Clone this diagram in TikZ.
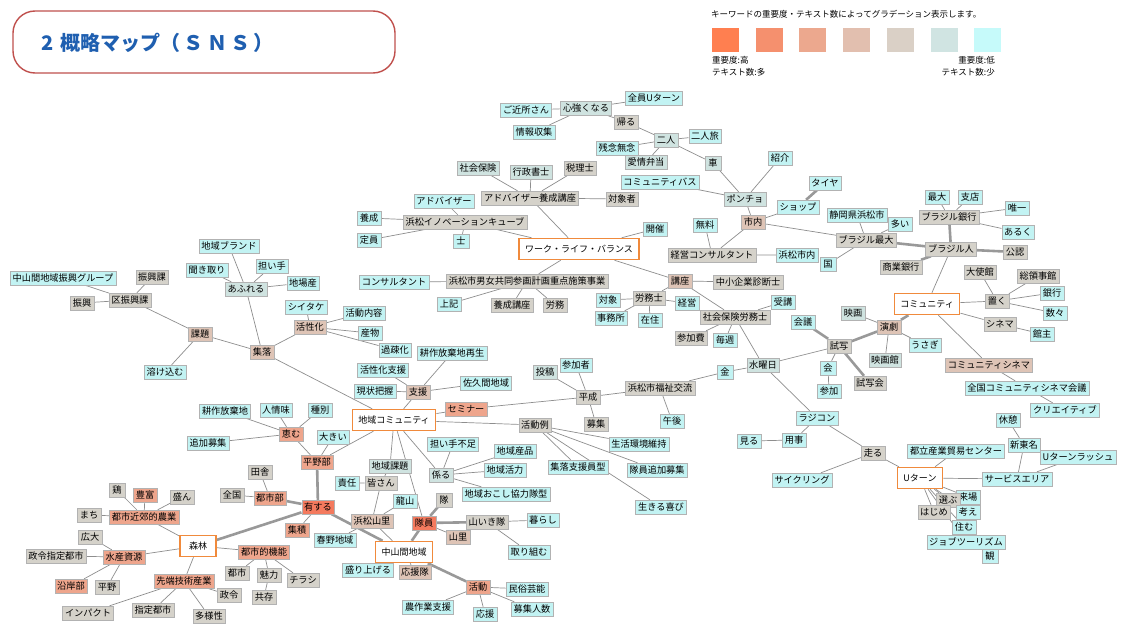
\documentclass[tikz,border=0pt]{standalone}
\usepackage{fontspec}
\setmainfont{Noto Sans CJK JP}
\usetikzlibrary{backgrounds,shadows}
\definecolor{kwhi}{HTML}{F47A5E}
\definecolor{kwsal}{HTML}{EEA58C}
\definecolor{kwtan}{HTML}{DEC4B6}
\definecolor{kwgry}{HTML}{D5D2CA}
\definecolor{kwgc}{HTML}{CFE3E0}
\definecolor{kwcy}{HTML}{C2F3F3}
\definecolor{hubor}{HTML}{F08A3C}
\definecolor{ttlred}{HTML}{C0504D}
\definecolor{ttlblue}{HTML}{1F5FB0}
\definecolor{lngray}{HTML}{8E8E8E}
\definecolor{lg1}{HTML}{FF7F50}
\definecolor{lg2}{HTML}{F5906E}
\definecolor{lg3}{HTML}{ECA88E}
\definecolor{lg4}{HTML}{E2BFAF}
\definecolor{lg5}{HTML}{DAD0C6}
\definecolor{lg6}{HTML}{D0E4E2}
\definecolor{lg7}{HTML}{C6FAFA}
\tikzset{
  kw/.style={rectangle, draw=black!30, line width=0.4pt, inner xsep=2.5pt, inner ysep=2pt,
    text height=8pt, text depth=2pt, minimum width=16pt, font=\fontsize{9.2}{10}\selectfont,
    drop shadow={shadow xshift=0.7pt, shadow yshift=-0.7pt, fill=black!30}},
  kh/.style={kw, fill=kwhi},
  ks/.style={kw, fill=kwsal},
  kt/.style={kw, fill=kwtan},
  kg/.style={kw, fill=kwgry},
  kgc/.style={kw, fill=kwgc},
  kc/.style={kw, fill=kwcy},
  hub/.style={rectangle, draw=hubor, fill=white, line width=1.5pt, inner xsep=6pt,
    minimum height=21pt, minimum width=36pt, font=\fontsize{9}{10}\selectfont},
  ln/.style={draw=lngray, line width=0.7pt},
  tk/.style={draw=lngray!90, line width=2.6pt},
  swatch/.style={rectangle, minimum width=27pt, minimum height=24pt, inner sep=0pt},
  lgfont/.style={font=\fontsize{8.5}{9}\selectfont, inner sep=0pt}
}
\begin{document}
\begin{tikzpicture}[x=1pt, y=-1pt]
            \useasboundingbox (0,0) rectangle (1121,626);

            \draw[ttlred, line width=1.4pt, rounded corners=22pt] (13,11) rectangle (395,73);
            \node[anchor=west, text=ttlblue, font=\fontsize{20}{24}\selectfont\bfseries] (ttl) at (38,43) {2\,\,概略マップ（\,Ｓ\,Ｎ\,Ｓ\,）};

            \node[lgfont, anchor=west] (lgtxt) at (711,14) {キーワードの重要度・テキスト数によってグラデーション表示します。};
            \node[swatch, fill=lg1] (sw1) at (725.5,40) {};
            \node[swatch, fill=lg2] (sw2) at (769,40) {};
            \node[swatch, fill=lg3] (sw3) at (812.5,40) {};
            \node[swatch, fill=lg4] (sw4) at (856.5,40) {};
            \node[swatch, fill=lg5] (sw5) at (900.5,40) {};
            \node[swatch, fill=lg6] (sw6) at (944.5,40) {};
            \node[swatch, fill=lg7] (sw7) at (987.5,40) {};
            \node[lgfont, anchor=west] (hiA) at (712,60) {重要度:高};
            \node[lgfont, anchor=west] (hiB) at (712,72) {テキスト数:多};
            \node[lgfont, anchor=east] (loA) at (995,60) {重要度:低};
            \node[lgfont, anchor=east] (loB) at (995,72) {テキスト数:少};

            \node[hub] (wlb) at (579,249) {ワーク・ライフ・バランス};
            \node[hub] (com) at (927,304) {コミュニティ};
            \node[hub] (chi) at (394,420) {地域コミュニティ};
            \node[hub] (shin) at (198,546) {森林};
            \node[hub] (chu) at (404,552) {中山間地域};
            \node[hub] (utn) at (920,478) {Uターン};

            \node[kc] (brand) at (229,246) {地域ブランド};
            \node[kc] (ninai) at (272,266) {担い手};
            \node[kc] (kiki) at (207,270) {聞き取り};
            \node[kgc] (afure) at (246,289) {あふれる};
            \node[kc] (jiba) at (303,283) {地場産};
            \node[kc] (grp) at (63,278) {中山間地域振興グループ};
            \node[kg] (shkA) at (152,277) {振興課};
            \node[kg] (shk) at (82,303) {振興};
            \node[kg] (kushk) at (130,300) {区振興課};
            \node[kt] (kadai) at (200,334) {課題};
            \node[kc] (toke) at (165,372) {溶け込む};
            \node[kt] (shur) at (262,352) {集落};
            \node[kc] (shii) at (306,307) {シイタケ};
            \node[kt] (kass) at (310,327) {活性化};
            \node[kc] (naiyo) at (364,313) {活動内容};
            \node[kc] (sanb) at (370,333) {産物};
            \node[kc] (kaso) at (395,350) {過疎化};

            \node[kgc] (shaho) at (478,168) {社会保険};
            \node[kgc] (gyos) at (531,172) {行政書士};
            \node[kg] (zeir) at (580,168) {税理士};
            \node[kg] (advk) at (530,198) {アドバイザー養成講座};
            \node[kg] (taisy) at (622,199) {対象者};
            \node[kc] (adv) at (444,201) {アドバイザー};
            \node[kc] (yos) at (369,218) {養成};
            \node[kg] (cube) at (465,222) {浜松イノベーションキューブ};
            \node[kc] (tei) at (369,240) {定員};
            \node[kc] (shi) at (461,241) {士};
            \node[kc] (kaisai) at (655,229) {開催};
            \node[kc] (cons) at (394,282) {コンサルタント};
            \node[kg] (danjo) at (527,281) {浜松市男女共同参画計画重点施策事業};
            \node[kc] (joki) at (449,304) {上記};
            \node[kg] (yosk) at (512,305) {養成講座};
            \node[kg] (romu) at (555,305) {労務};

            \node[kc] (gokin) at (526,110) {ご近所さん};
            \node[kgc] (kokoro) at (586,108) {心強くなる};
            \node[kc] (zenin) at (654,98) {全員Uターン};
            \node[kc] (joho) at (534,132) {情報収集};
            \node[kg] (kaeru) at (626,122) {帰る};
            \node[kgc] (futari) at (666,140) {二人};
            \node[kc] (futabi) at (705,136) {二人旅};
            \node[kc] (zannen) at (617,148) {残念無念};
            \node[kgc] (aijo) at (646,162) {愛情弁当};
            \node[kgc] (kuruma) at (713,163) {車};
            \node[kc] (cbus) at (660,182) {コミュニティバス};
            \node[kgc] (poncho) at (745,199) {ポンチョ};
            \node[kt] (shinai) at (753,222) {市内};
            \node[kc] (muryo) at (705,225) {無料};
            \node[kc] (shokai) at (780,158) {紹介};
            \node[kc] (taiya) at (825,183) {タイヤ};
            \node[kc] (shop) at (798,207) {ショップ};

            \node[kc] (shizu) at (857,215) {静岡県浜松市};
            \node[kc] (oi) at (900,224) {多い};
            \node[kg] (brmax) at (866,240) {ブラジル最大};
            \node[kg] (brbank) at (949,217) {ブラジル銀行};
            \node[kc] (saidai) at (937,197) {最大};
            \node[kc] (shiten) at (970,197) {支店};
            \node[kc] (yuiitsu) at (1017,208) {唯一};
            \node[kc] (aruku) at (1018,232) {あるく};
            \node[kg] (brjin) at (951,249) {ブラジル人};
            \node[kg] (konin) at (1015,252) {公認};
            \node[kg] (shogyo) at (901,267) {商業銀行};
            \node[kc] (hmnai) at (797,255) {浜松市内};
            \node[kc] (kuni) at (828,264) {国};
            \node[kg] (keiei) at (712,255) {経営コンサルタント};
            \node[kg] (taishi) at (980,272) {大使館};
            \node[kg] (soryo) at (1038,276) {総領事館};
            \node[kg] (oku) at (997,301) {置く};
            \node[kc] (ginko) at (1052,293) {銀行};
            \node[kc] (kazu) at (1055,313) {数々};
            \node[kg] (cinema) at (1000,324) {シネマ};
            \node[kc] (kanshu) at (1042,334) {館主};
            \node[kgc] (eiga) at (853,313) {映画};
            \node[kt] (engeki) at (889,327) {演劇};
            \node[kc] (usagi) at (925,345) {うさぎ};
            \node[kgc] (eigak) at (885,360) {映画館};
            \node[kg] (shisha) at (839,346) {試写};
            \node[kg] (shishak) at (870,383) {試写会};
            \node[kt] (comcin) at (989,365) {コミュニティシネマ};
            \node[kc] (zenkoku) at (1027,388) {全国コミュニティシネマ会議};
            \node[kc] (creat) at (1065,410) {クリエイティブ};

            \node[kc] (kyukei) at (1008,420) {休憩};
            \node[kc] (shintom) at (1024,445) {新東名};
            \node[kc] (urush) at (1078,457) {Uターンラッシュ};
            \node[kc] (toritsu) at (956,451) {都立産業貿易センター};
            \node[kg] (hashiru) at (873,453) {走る};
            \node[kc] (sarea) at (1017,479) {サービスエリア};
            \node[kc] (raijo) at (968,497) {来場};
            \node[kg] (erabu) at (948,500) {選ぶ};
            \node[kc] (kangae) at (968,512) {考え};
            \node[kg] (hajime) at (934,512) {はじめ};
            \node[kc] (sumu) at (964,527) {住む};
            \node[kc] (jobt) at (966,542) {ジョブツーリズム};
            \node[kc] (kan) at (990,556) {観};
            \node[kc] (cycl) at (802,480) {サイクリング};
            \node[kc] (miru) at (749,441) {見る};
            \node[kc] (yoji) at (794,440) {用事};
            \node[kc] (rajikon) at (817,418) {ラジコン};
            \node[kc] (sanka) at (829,391) {参加};
            \node[kc] (kai) at (828,368) {会};
            \node[kc] (kaigi) at (803,322) {会議};

            \node[kc] (juko) at (783,302) {受講};
            \node[kg] (sharo) at (735,317) {社会保険労務士};
            \node[kg] (sankahi) at (691,338) {参加費};
            \node[kc] (maishu) at (725,340) {毎週};
            \node[kgc] (suiyo) at (763,365) {水曜日};
            \node[kc] (kin) at (725,372) {金};
            \node[kt] (koza) at (680,281) {講座};
            \node[kg] (chusho) at (748,282) {中小企業診断士};
            \node[kg] (romushi) at (649,298) {労務士};
            \node[kc] (taisho) at (608,300) {対象};
            \node[kc] (jimu) at (611,318) {事務所};
            \node[kc] (zaiju) at (650,320) {在住};
            \node[kc] (keie2) at (687,303) {経営};
            \node[kg] (fukushi) at (660,388) {浜松市福祉交流};
            \node[kg] (heisei) at (588,397) {平成};
            \node[kc] (gogo) at (672,421) {午後};
            \node[kg] (boshu) at (596,424) {募集};
            \node[kc] (sankasha) at (576,365) {参加者};
            \node[kgc] (toko) at (545,372) {投稿};

            \node[kg] (katsurei) at (535,425) {活動例};
            \node[kc] (seikatsu) at (639,444) {生活環境維持};
            \node[kc] (tsuika) at (657,470) {隊員追加募集};
            \node[kc] (shuraku2) at (578,467) {集落支援員型};
            \node[kc] (ikiru) at (661,507) {生きる喜び};
            \node[ks] (seminar) at (466,409) {セミナー};
            \node[kt] (shien) at (418,392) {支援};
            \node[kc] (genjo) at (375,391) {現状把握};
            \node[kc] (kshien) at (383,370) {活性化支援};
            \node[kc] (kosaku) at (452,353) {耕作放棄地再生};
            \node[kc] (sakuma) at (486,383) {佐久間地域};
            \node[kc] (ninaif) at (453,444) {担い手不足};
            \node[kc] (sanpin) at (515,451) {地域産品};
            \node[kc] (katsur) at (505,470) {地域活力};
            \node[kgc] (kakaru) at (441,475) {係る};
            \node[kc] (okoshi) at (506,494) {地域おこし協力隊型};
            \node[kgc] (chikad) at (390,466) {地域課題};
            \node[kg] (minasan) at (381,483) {皆さん};
            \node[kc] (sekinin) at (347,483) {責任};
            \node[kc] (ookii) at (333,437) {大きい};
            \node[ks] (heiya) at (317,462) {平野部};
            \node[kc] (shubetsu) at (320,410) {種別};
            \node[ks] (megumu) at (291,434) {恵む};
            \node[kc] (ninjo) at (276,410) {人情味};
            \node[kc] (kosakuh) at (225,411) {耕作放棄地};
            \node[kc] (tsuibo) at (208,443) {追加募集};
            \node[kg] (inaka) at (260,472) {田舎};
            \node[kg] (zenkok2) at (232,495) {全国};
            \node[ks] (toshibu) at (270,498) {都市部};
            \node[kh] (yusuru) at (318,507) {有する};
            \node[ks] (shuseki) at (297,530) {集積};
            \node[kc] (haruno) at (335,540) {春野地域};
            \node[kt] (hmyama) at (372,521) {浜松山里};
            \node[kc] (tatsu) at (405,501) {龍山};
            \node[kg] (tai) at (444,500) {隊};
            \node[kh] (taiin) at (424,523) {隊員};
            \node[kg] (yamaiki) at (487,522) {山いき隊};
            \node[kc] (kurashi) at (543,520) {暮らし};
            \node[kt] (yamazato) at (458,537) {山里};
            \node[kc] (torikumu) at (529,552) {取り組む};
            \node[kc] (moriage) at (368,570) {盛り上げる};
            \node[kt] (oentai) at (415,572) {応援隊};
            \node[ks] (katsudo) at (478,587) {活動};
            \node[kc] (minzoku) at (527,589) {民俗芸能};
            \node[kc] (nosagyo) at (428,607) {農作業支援};
            \node[kc] (oen) at (485,614) {応援};
            \node[kc] (boshunin) at (532,609) {募集人数};

            \node[ks] (toshikino) at (264,552) {都市的機能};
            \node[kg] (miryoku) at (269,575) {魅力};
            \node[kg] (chirashi) at (303,580) {チラシ};
            \node[kg] (kyozon) at (264,597) {共存};
            \node[kg] (toshi) at (237,573) {都市};
            \node[kg] (seirei) at (229,595) {政令};
            \node[ks] (kinko) at (144,517) {都市近郊的農業};
            \node[kg] (tori) at (117,490) {鶏};
            \node[ks] (hofu) at (145,495) {豊富};
            \node[kg] (sakan) at (182,497) {盛ん};
            \node[kg] (machi) at (89,515) {まち};
            \node[kg] (kodai) at (90,537) {広大};
            \node[ks] (suisan) at (124,557) {水産資源};
            \node[kg] (seishi) at (56,556) {政令指定都市};
            \node[ks] (engan) at (71,586) {沿岸部};
            \node[kg] (heiya2) at (107,587) {平野};
            \node[ks] (sentan) at (184,581) {先端技術産業};
            \node[kg] (impact) at (88,613) {インパクト};
            \node[kg] (shitei) at (153,610) {指定都市};
            \node[kg] (tayo) at (209,616) {多様性};

            \begin{scope}[on background layer]
            \fill[white] (0,0) rectangle (1121,626);
            \draw[ln] (brand) -- (afure) (afure) -- (shur) (afure) -- (ninai) (afure) -- (kiki) (afure) -- (jiba);
            \draw[ln] (grp) -- (kushk) (shkA) -- (kushk) (shk) -- (kushk) (kushk) -- (kadai);
            \draw[ln] (kadai) -- (toke) (kadai) -- (shur) (shur) -- (kass) (shur) -- (chi);
            \draw[ln] (kass) -- (shii) (kass) -- (naiyo) (kass) -- (sanb) (kass) -- (kaso);

            \draw[ln] (wlb) -- (advk) (wlb) -- (cube) (wlb) -- (danjo) (wlb) -- (koza) (wlb) -- (kaisai);
            \draw[ln] (advk) -- (shaho) (advk) -- (gyos) (advk) -- (zeir) (advk) -- (taisy);
            \draw[ln] (cube) -- (adv) (cube) -- (yos) (cube) -- (tei) (cube) -- (shi);
            \draw[ln] (danjo) -- (cons) (danjo) -- (joki) (danjo) -- (yosk) (danjo) -- (romu);
            \draw[ln] (koza) -- (chusho) (koza) -- (romushi) (koza) -- (sharo);
            \draw[ln] (romushi) -- (taisho) (romushi) -- (jimu) (romushi) -- (zaiju) (romushi) -- (keie2);
            \draw[ln] (sharo) -- (juko) (sharo) -- (sankahi) (sharo) -- (maishu) (sharo) -- (suiyo);
            \draw[ln] (keiei) -- (muryo) (keiei) -- (shinai) (keiei) -- (hmnai);
            \draw[ln] (shinai) -- (poncho) (shinai) -- (shop) (shinai) -- (brmax);
            \draw[ln] (poncho) -- (shokai) (poncho) -- (kuruma) (poncho) -- (cbus) (kuruma) -- (futari);
            \draw[ln] (futari) -- (kaeru) (futari) -- (futabi) (futari) -- (zannen) (futari) -- (aijo);
            \draw[ln] (kaeru) -- (kokoro) (kokoro) -- (gokin) (kokoro) -- (zenin) (kokoro) -- (joho);

            \draw[ln] (brmax) -- (shizu) (brmax) -- (oi) (brmax) -- (kuni);
            \draw[ln] (brbank) -- (saidai) (brbank) -- (shiten) (brbank) -- (yuiitsu) (brbank) -- (aruku);
            \draw[ln] (brjin) -- (com) (com) -- (oku) (com) -- (cinema) (com) -- (comcin);
            \draw[ln] (oku) -- (taishi) (oku) -- (soryo) (oku) -- (ginko) (oku) -- (kazu) (cinema) -- (kanshu);
            \draw[ln] (engeki) -- (eiga) (engeki) -- (usagi) (engeki) -- (eigak);
            \draw[ln] (shisha) -- (kai) (shisha) -- (suiyo) (kai) -- (sanka);
            \draw[ln] (comcin) -- (zenkoku) (zenkoku) -- (creat);
            \draw[ln] (suiyo) -- (kin) (suiyo) -- (rajikon) (kin) -- (fukushi);
            \draw[ln] (fukushi) -- (heisei) (fukushi) -- (gogo);
            \draw[ln] (heisei) -- (sankasha) (heisei) -- (toko) (heisei) -- (boshu) (heisei) -- (seminar);
            \draw[ln] (rajikon) -- (yoji) (rajikon) -- (hashiru) (yoji) -- (miru);
            \draw[ln] (hashiru) -- (cycl) (hashiru) -- (utn);
            \draw[ln] (utn) -- (toritsu) (utn) -- (sarea) (utn) -- (erabu) (utn) -- (raijo) (utn) -- (hajime);
            \draw[ln] (utn) -- (kangae) (utn) -- (sumu) (utn) -- (jobt) (utn) -- (kan);
            \draw[ln] (sarea) -- (shintom) (sarea) -- (urush) (shintom) -- (kyukei);

            \draw[ln] (chi) -- (shien) (chi) -- (seminar) (chi) -- (katsurei) (chi) -- (heiya);
            \draw[ln] (chi) -- (kakaru) (chi) -- (chikad) (chi) -- (taiin);
            \draw[ln] (shien) -- (genjo) (shien) -- (kshien) (shien) -- (kosaku) (shien) -- (sakuma);
            \draw[ln] (katsurei) -- (seikatsu) (katsurei) -- (tsuika) (katsurei) -- (shuraku2) (katsurei) -- (ikiru);
            \draw[ln] (kakaru) -- (ninaif) (kakaru) -- (sanpin) (kakaru) -- (katsur) (kakaru) -- (okoshi);
            \draw[ln] (chikad) -- (minasan) (minasan) -- (sekinin) (minasan) -- (hmyama);
            \draw[ln] (heiya) -- (ookii) (heiya) -- (megumu);
            \draw[ln] (megumu) -- (shubetsu) (megumu) -- (ninjo) (megumu) -- (kosakuh) (megumu) -- (tsuibo);
            \draw[ln] (toshibu) -- (inaka) (toshibu) -- (zenkok2) (yusuru) -- (shuseki);
            \draw[ln] (hmyama) -- (tatsu) (hmyama) -- (haruno) (hmyama) -- (chu);
            \draw[ln] (taiin) -- (yamazato) (yamaiki) -- (kurashi) (yamaiki) -- (torikumu);
            \draw[ln] (chu) -- (moriage) (chu) -- (oentai);
            \draw[ln] (katsudo) -- (minzoku) (katsudo) -- (nosagyo) (katsudo) -- (oen) (katsudo) -- (boshunin);

            \draw[ln] (shin) -- (kinko) (shin) -- (suisan) (shin) -- (sentan) (shin) -- (toshikino);
            \draw[ln] (kinko) -- (tori) (kinko) -- (hofu) (kinko) -- (sakan) (kinko) -- (machi);
            \draw[ln] (suisan) -- (kodai) (suisan) -- (seishi) (suisan) -- (engan) (suisan) -- (heiya2);
            \draw[ln] (sentan) -- (impact) (sentan) -- (shitei) (sentan) -- (tayo) (sentan) -- (seirei);
            \draw[ln] (toshikino) -- (toshi) (toshikino) -- (miryoku) (toshikino) -- (chirashi) (miryoku) -- (kyozon);

            \draw[tk] (shop) -- (taiya) (brmax) -- (brjin) (brjin) -- (brbank) (brjin) -- (konin) (brjin) -- (shogyo);
            \draw[tk] (com) -- (engeki) (engeki) -- (shisha) (shisha) -- (kaigi) (shisha) -- (shishak);
            \draw[tk] (yusuru) -- (heiya) (yusuru) -- (toshibu) (yusuru) -- (shin) (yusuru) -- (chu);
            \draw[tk] (taiin) -- (tai) (taiin) -- (yamaiki) (taiin) -- (chu) (chu) -- (katsudo);
            \end{scope}
        \end{tikzpicture}
\end{document}
